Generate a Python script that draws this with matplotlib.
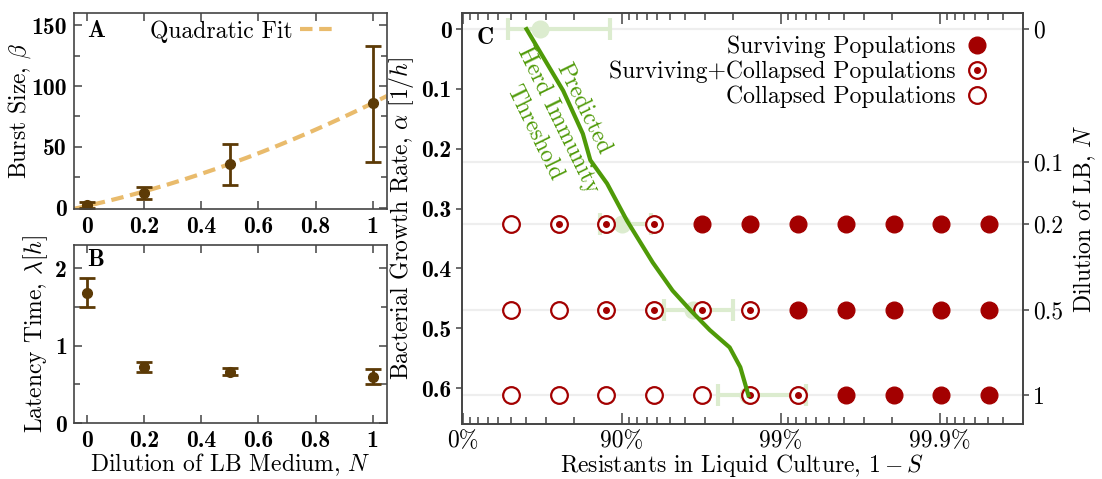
import numpy as np
import matplotlib
matplotlib.use("Agg")
import matplotlib.pyplot as plt
from matplotlib.lines import Line2D

plt.rcParams.update({
    "font.family": "serif",
    "font.serif": ["cmr10"],
    "mathtext.fontset": "cm",
    "axes.unicode_minus": False,
    "axes.linewidth": 1.2,
    "axes.edgecolor": "#444444",
    "font.size": 17,
    "xtick.labelsize": 17,
    "ytick.labelsize": 17,
})

# ---- panels A and B: phage traits vs dilution of LB medium ----
dilution = [0, 0.2, 0.5, 1]
burst = [2, 12, 36, 86]
burst_lo = [0, 7, 19, 38]
burst_hi = [5, 17, 52, 133]
fit_coef = [31, 53.5, 1.5]  # quadratic fit, highest power first
latency = [1.68, 0.72, 0.66, 0.60]
latency_lo = [1.50, 0.66, 0.62, 0.51]
latency_hi = [1.87, 0.79, 0.71, 0.70]

# ---- panel C: outcome grid ----
resistant = [0.5, 0.75, 0.875, 0.9375, 0.96875, 0.984375, 0.9921875,
             0.99609375, 0.998046875, 0.9990234375, 0.99951171875]
row_labels = ["0", "0.1", "0.2", "0.5", "1"]
row_growth = [0.0, 0.222, 0.325, 0.469, 0.612]
tested_growth = [0.325, 0.469, 0.612]
# 0 = collapsed, 1 = surviving+collapsed, 2 = surviving
outcomes = [
    [0, 1, 1, 1, 2, 2, 2, 2, 2, 2, 2],
    [0, 0, 1, 1, 1, 1, 2, 2, 2, 2, 2],
    [0, 0, 0, 0, 0, 1, 1, 2, 2, 2, 2],
]
# measured thresholds (pale green)
thr_growth = [0.0, 0.325, 0.469, 0.612]
thr_mid = [0.672, 0.900, 0.9645, 0.984]
thr_lo = [0.479, 0.862, 0.946, 0.975]
thr_hi = [0.881, 0.934, 0.980, 0.9931]
# predicted herd immunity threshold
pred_resist = [0.602, 0.766, 0.824, 0.842, 0.876, 0.907, 0.936, 0.952,
               0.963, 0.972, 0.979, 0.982, 0.984]
pred_growth = [0.0, 0.103, 0.175, 0.219, 0.258, 0.32, 0.39, 0.437,
               0.47, 0.503, 0.532, 0.565, 0.612]

brown = "#5c3a06"
gold = "#e9bb6c"
red = "#a30000"
green = "#4f9a08"
pale = "#dceccf"

fig = plt.figure(figsize=(11.02, 4.79), dpi=100)
axA = fig.add_axes([0.0672, 0.5637, 0.2840, 0.4092])
axB = fig.add_axes([0.0672, 0.1169, 0.2840, 0.3716])
axC = fig.add_axes([0.4192, 0.1148, 0.5091, 0.8581])

# panel A
xs = np.linspace(-0.045, 1.05, 200)
axA.plot(xs, np.polyval(fit_coef, xs), color=gold, lw=3, dashes=(3, 1.6),
         label="Quadratic Fit")
b = np.array(burst)
axA.errorbar(dilution, burst, yerr=[b - burst_lo, np.array(burst_hi) - b],
             fmt="o", color=brown, ms=7, lw=2, capsize=6, capthick=2)
axA.set_xlim(-0.045, 1.05)
axA.set_ylim(-1, 160)
axA.set_yticks([0, 50, 100, 150])
axA.set_yticks([25, 75, 125], minor=True)
axA.set_ylabel(r"Burst Size, $\beta$", labelpad=-1)
axA.text(0.07, 0.91, "A", transform=axA.transAxes, fontfamily="cmb10",
         fontsize=17, ha="center", va="center")
axA.legend(loc="upper right", bbox_to_anchor=(0.85, 1.0), frameon=False,
           markerfirst=False, handlelength=1.4, handletextpad=0.3,
           borderaxespad=0.15, borderpad=0.15)

# panel B
l = np.array(latency)
axB.errorbar(dilution, latency, yerr=[l - latency_lo, np.array(latency_hi) - l],
             fmt="o", color=brown, ms=7, lw=2, capsize=6, capthick=2)
axB.set_xlim(-0.045, 1.05)
axB.set_ylim(0, 2.3)
axB.set_yticks([0, 1, 2])
axB.set_yticks([0.5, 1.5], minor=True)
axB.set_ylabel(r"Latency Time, $\lambda[h]$", labelpad=4)
axB.set_xlabel(r"Dilution of LB Medium, $N$", labelpad=0)
axB.text(0.07, 0.915, "B", transform=axB.transAxes, fontfamily="cmb10",
         fontsize=17, ha="center", va="center")

for ax in (axA, axB):
    ax.set_xticks([0, 0.2, 0.4, 0.6, 0.8, 1], ["0", "0.2", "0.4", "0.6", "0.8", "1"])
    ax.tick_params(which="both", direction="in", top=True, right=True,
                   color="#444444", width=1.1)
    ax.tick_params(which="major", length=6, pad=5)
    ax.tick_params(which="minor", length=4)
    for lbl in ax.get_xticklabels() + ax.get_yticklabels():
        lbl.set_fontfamily("cmb10")

# panel C
def fwd(x):
    return -np.log10(np.clip(1 - np.asarray(x, dtype=float), 1e-12, None))

def inv(u):
    return 1 - 10 ** (-np.asarray(u, dtype=float))

axC.set_xscale("function", functions=(fwd, inv))
for g in row_growth:
    axC.axhline(g, color="#eeeeee", lw=1.6, zorder=0)

t = np.array(thr_mid)
axC.errorbar(thr_mid, thr_growth, xerr=[t - thr_lo, np.array(thr_hi) - t],
             fmt="o", color=pale, ms=12, lw=3, capsize=8, capthick=3, zorder=1)

for g, row in zip(tested_growth, outcomes):
    for x, o in zip(resistant, row):
        if o == 2:
            axC.plot(x, g, "o", color=red, ms=12, zorder=3)
        else:
            axC.plot(x, g, "o", mfc="white", mec=red, mew=1.6, ms=12, zorder=3)
            if o == 1:
                axC.plot(x, g, "o", color=red, ms=4, zorder=4)

axC.plot(pred_resist, pred_growth, color=green, lw=3, zorder=5)
axC.text(0.749, 0.1525, "Predicted\nHerd Immunity\nThreshold", color=green,
         rotation=-64, rotation_mode="anchor", ha="center", va="center",
         multialignment="center", fontsize=17, linespacing=1.3)

axC.set_xlim(-0.014, 0.9997)
axC.set_ylim(0.66, -0.027)
axC.set_xticks([0, 0.9, 0.99, 0.999], ["0%", "90%", "99%", "99.9%"])
minor = ([i / 10 for i in range(1, 9)] + [0.9 + i / 100 for i in range(1, 9)]
         + [0.99 + i / 1000 for i in range(1, 9)] + [0.999 + i / 10000 for i in range(1, 7)])
axC.set_xticks(minor, minor=True)
axC.set_yticks([0, 0.1, 0.2, 0.3, 0.4, 0.5, 0.6],
               ["0", "0.1", "0.2", "0.3", "0.4", "0.5", "0.6"])
for lbl in axC.get_yticklabels():
    lbl.set_fontfamily("cmb10")
axC.tick_params(axis="x", which="both", direction="in", top=True, bottom=True,
                color="#444444", width=1.1)
axC.tick_params(axis="x", which="major", length=8, pad=4)
axC.tick_params(axis="x", which="minor", length=5)
axC.tick_params(axis="y", direction="out", length=4, color="#444444", width=1.1)
axC.set_xlabel(r"Resistants in Liquid Culture, $1-S$", labelpad=0)
axC.set_ylabel(r"Bacterial Growth Rate, $\alpha$ $[1/h]$", labelpad=4)
axC.text(0.041, 0.94, "C", transform=axC.transAxes, fontfamily="cmb10",
         fontsize=17, ha="center", va="center")

ax2 = axC.twinx()
ax2.set_ylim(axC.get_ylim())
ax2.set_yticks(row_growth, row_labels)
ax2.tick_params(axis="y", direction="out", length=4, color="#444444", width=1.1)
ax2.set_ylabel(r"Dilution of LB, $N$", labelpad=6)

h_surv = Line2D([], [], ls="none", marker="o", ms=12, color=red)
h_open = Line2D([], [], ls="none", marker="o", ms=12, mfc="white", mec=red, mew=1.6)
h_dot = Line2D([], [], ls="none", marker="o", ms=4, color=red)
axC.legend([h_surv, (h_open, h_dot), h_open],
           ["Surviving Populations", "Surviving+Collapsed Populations",
            "Collapsed Populations"],
           loc="upper right", bbox_to_anchor=(0.935, 0.945), frameon=False,
           markerfirst=False, handlelength=0.8, handletextpad=0.5,
           labelspacing=0.1, borderaxespad=0, borderpad=0)

fig.savefig("out.png", dpi=100)
